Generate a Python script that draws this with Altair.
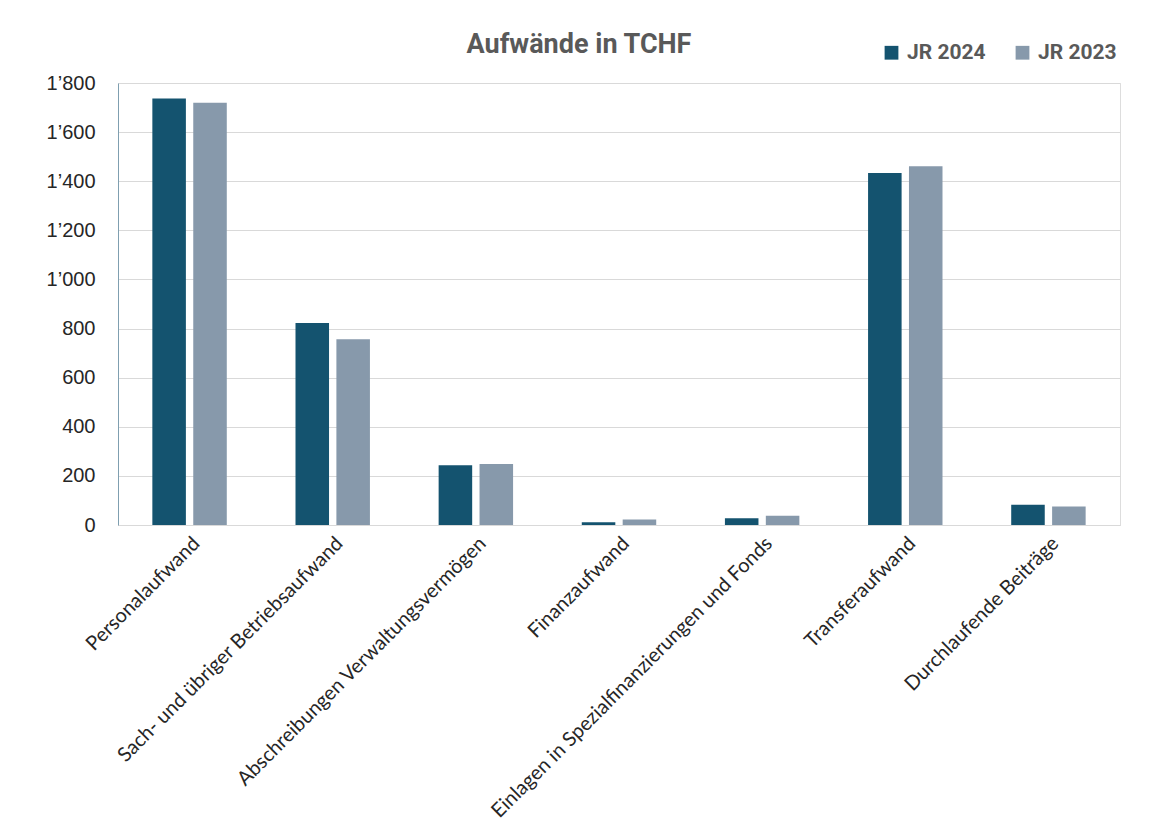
import altair as alt
import pandas as pd

categories = [
    "Personalaufwand",
    "Sach- und übriger Betriebsaufwand",
    "Abschreibungen Verwaltungsvermögen",
    "Finanzaufwand",
    "Einlagen in Spezialfinanzierungen und Fonds",
    "Transferaufwand",
    "Durchlaufende Beiträge",
]
values_2024 = [1737, 823, 243, 11, 27, 1433, 82]
values_2023 = [1720, 756, 248, 22, 38, 1461, 75]
series = ["JR 2024", "JR 2023"]
colors = ["#14536F", "#8799AB"]
y_ticks = [0, 200, 400, 600, 800, 1000, 1200, 1400, 1600, 1800]

rows = []
for c, a, b in zip(categories, values_2024, values_2023):
    rows.append({"Kategorie": c, "Jahr": series[0], "Wert": a})
    rows.append({"Kategorie": c, "Jahr": series[1], "Wert": b})
df = pd.DataFrame(rows)

chart = (
    alt.Chart(df)
    .mark_bar()
    .encode(
        x=alt.X(
            "Kategorie:N",
            sort=categories,
            title=None,
            scale=alt.Scale(paddingInner=0.48, paddingOuter=0.24),
            axis=alt.Axis(
                labelAngle=-45,
                labelAlign="right",
                labelBaseline="top",
                labelFont="Lato",
                labelFontSize=20,
                labelColor="#262626",
                labelPadding=8,
                ticks=False,
                domainColor="#d9d9d9",
                domainWidth=1,
                labelLimit=600,
            ),
        ),
        xOffset=alt.XOffset("Jahr:N", sort=series, scale=alt.Scale(paddingInner=0.18)),
        y=alt.Y(
            "Wert:Q",
            title=None,
            scale=alt.Scale(domain=[0, 1800]),
            axis=alt.Axis(
                values=y_ticks,
                labelExpr="replace(format(datum.value, ','), ',', '’')",
                labelFont="Liberation Sans",
                labelFontSize=20,
                labelColor="#262626",
                labelPadding=23,
                ticks=False,
                domainColor="#7f9fb0",
                grid=True,
                gridColor="#d9d9d9",
            ),
        ),
        color=alt.Color(
            "Jahr:N",
            sort=series,
            scale=alt.Scale(domain=series, range=colors),
            legend=alt.Legend(
                title=None,
                orient="none",
                direction="horizontal",
                legendX=763,
                legendY=-41,
                symbolType="square",
                symbolSize=190,
                symbolStrokeWidth=0,
                labelFont="Roboto",
                labelFontWeight="bold",
                labelFontSize=21,
                labelColor="#595959",
                columnPadding=26,
                labelOffset=5,
            ),
        ),
    )
    .properties(
        width=1002,
        height=442,
        padding={"left": 110, "top": 75, "right": 21, "bottom": 300},
        autosize=alt.AutoSizeParams(type="none"),
        title=alt.TitleParams(
            "Aufwände in TCHF",
            font="Roboto",
            fontWeight="bold",
            fontSize=27,
            color="#595959",
            anchor="middle",
            dx=-40,
            dy=39,
            offset=22,
        ),
    )
    .configure_view(strokeWidth=0)
    .configure(background="white")
)

chart.save("out.html", embed_options={"renderer": "svg", "actions": False})
